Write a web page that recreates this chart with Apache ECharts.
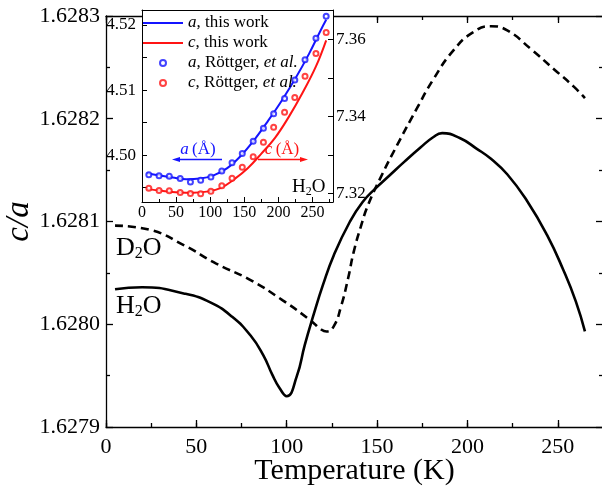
<!DOCTYPE html>
<html>
<head>
<meta charset="utf-8">
<script src="https://cdn.jsdelivr.net/npm/echarts@6/dist/echarts.min.js"></script>
<style>
html, body { margin: 0; padding: 0; background: #fff; }
#chart { width: 602px; height: 487px; }
</style>
</head>
<body>
<div id="chart"></div>
<script>
// main plot, c/a ratio
var tempH2O = [5, 20, 43, 58, 70, 80, 87, 92, 96, 100, 105.5, 110, 115, 120, 126, 135, 142, 149, 157, 165, 174, 181, 186, 196, 205, 213, 222, 233, 244, 253, 260, 265];
var caH2O = [1.628034, 1.628036, 1.628030, 1.628021, 1.628007, 1.627989, 1.627970, 1.627951, 1.627938, 1.627930, 1.627949, 1.627980, 1.628010, 1.628038, 1.628067, 1.628100, 1.628119, 1.628132, 1.628145, 1.628158, 1.628172, 1.628182, 1.628186, 1.628181, 1.628171, 1.628161, 1.628146, 1.628120, 1.628087, 1.628053, 1.628022, 1.627993];
var tempD2O = [5, 24, 43, 61, 80, 98, 113, 119, 122, 126, 130, 134, 137, 141, 145, 152, 161, 172, 181, 192, 203, 213, 222, 235, 248, 259, 265];
var caD2O = [1.628096, 1.628092, 1.628077, 1.628059, 1.628043, 1.628023, 1.628004, 1.627995, 1.627993, 1.627998, 1.628017, 1.628045, 1.628070, 1.628095, 1.628116, 1.628143, 1.628174, 1.628210, 1.628238, 1.628266, 1.628284, 1.628290, 1.628286, 1.628268, 1.628248, 1.628231, 1.628220];

// inset, lattice constants of H2O
var tempFitA = [7, 25, 45, 65, 85, 105, 125, 145, 165, 185, 205, 225, 245, 262, 270];
var aFit = [4.49720, 4.49690, 4.49655, 4.49630, 4.49640, 4.49690, 4.49800, 4.49990, 4.50240, 4.50530, 4.50840, 4.51180, 4.51560, 4.51920, 4.52080];
var tempFitC = [7, 30, 55, 75, 95, 115, 135, 155, 175, 195, 215, 235, 255, 270];
var cFit = [7.32112, 7.32060, 7.32020, 7.32010, 7.32040, 7.32130, 7.32360, 7.32650, 7.33030, 7.33440, 7.33980, 7.34600, 7.35300, 7.35980];
var tempRottger = [10, 25, 40, 56, 71, 86, 101, 117, 132, 147, 163, 178, 193, 209, 224, 239, 255, 270];
var aRottger = [4.49697, 4.49682, 4.49677, 4.49642, 4.49589, 4.49615, 4.49666, 4.49758, 4.49882, 4.50026, 4.50215, 4.50415, 4.50635, 4.50872, 4.51154, 4.51466, 4.51795, 4.52134];
var cRottger = [7.32130, 7.32068, 7.32060, 7.32016, 7.31990, 7.31982, 7.32052, 7.32190, 7.32390, 7.32675, 7.32950, 7.33325, 7.33714, 7.34104, 7.34494, 7.35047, 7.35636, 7.36182];

var legendNames = ['a, this work', 'c, this work', 'a, Röttger, et al.', 'c, Röttger, et al.'];

var serif = '"Liberation Serif", "DejaVu Serif", serif';
var blue = '#1414ff';
var red = '#ff1414';

function zip(xs, ys) {
    return xs.map(function (x, i) { return [x, ys[i]]; });
}

function tickAxis(extra) {
    var base = {
        type: 'value',
        splitLine: {show: false},
        axisLine: {show: true, onZero: false, lineStyle: {color: '#000', width: 1.3}},
        axisTick: {show: true, inside: true, length: 7, lineStyle: {color: '#000', width: 1.3}},
        axisLabel: {show: false}
    };
    return Object.assign(base, extra);
}

function formula(a, b, big, small, y) {
    // chemical formula with a lowered 2
    return {type: 'text', x: 0, y: 0, z: 9, style: {
        text: '{n|' + a + '}{s|2}{n|' + b + '}', textVerticalAlign: 'middle',
        rich: {n: {fontFamily: serif, fontSize: big, lineHeight: big + 2, fill: '#000'},
               s: {fontFamily: serif, fontSize: small, lineHeight: y, verticalAlign: 'bottom', fill: '#000'}}}};
}

var myChart = echarts.init(document.getElementById('chart'));

var d2oLabel = formula('D', 'O', 26, 16, 6);
d2oLabel.x = 116; d2oLabel.y = 248;
var h2oLabel = formula('H', 'O', 26, 16, 6);
h2oLabel.x = 116; h2oLabel.y = 306;
var insetLabel = formula('H', 'O', 19, 12, 4);
insetLabel.x = 292; insetLabel.y = 187;

var option = {
    animation: false,
    backgroundColor: '#fff',
    textStyle: {fontFamily: serif, color: '#000'},
    grid: [
        {left: 106, top: 16, right: -1, bottom: 60, outerBoundsMode: 'none', containLabel: false},
        {left: 142, top: 10, width: 191, height: 192, show: true, backgroundColor: '#fff', borderWidth: 0, z: 5,
            outerBoundsMode: 'none', containLabel: false}
    ],
    legend: {
        data: [
            {name: legendNames[0], itemStyle: {opacity: 0}},
            {name: legendNames[1], itemStyle: {opacity: 0}},
            {name: legendNames[2]},
            {name: legendNames[3]}
        ],
        left: 142,
        top: 13,
        orient: 'vertical',
        padding: 0,
        itemGap: 0,
        itemWidth: 40,
        itemHeight: 6,
        selectedMode: false,
        z: 8,
        formatter: function (name) {
            var parts = name.split(', ');
            if (parts.length == 3) {
                return '{i|' + parts[0] + '}{n|, ' + parts[1] + ', }{i|' + parts[2] + '}';
            }
            return '{i|' + parts[0] + '}{n|, ' + parts[1] + '}';
        },
        textStyle: {
            fontFamily: serif, fontSize: 17, color: '#000', lineHeight: 20,
            rich: {
                i: {fontFamily: serif, fontSize: 17, fontStyle: 'italic', color: '#000', lineHeight: 20},
                n: {fontFamily: serif, fontSize: 17, color: '#000', lineHeight: 20}
            }
        }
    },
    xAxis: [
        tickAxis({
            gridIndex: 0, position: 'bottom', min: 0, max: 275, interval: 50,
            axisLabel: {show: true, fontFamily: serif, fontSize: 22, color: '#000', margin: 9, showMaxLabel: false},
            name: 'Temperature (K)', nameLocation: 'middle', nameGap: 29, nameMoveOverlap: false,
            nameTextStyle: {fontFamily: serif, fontSize: 30, color: '#000'}
        }),
        tickAxis({gridIndex: 0, position: 'bottom', min: 0, max: 275, interval: 25,
            axisLine: {show: false}, axisTick: {inside: true, length: 4, lineStyle: {color: '#000', width: 1.3}}}),
        tickAxis({gridIndex: 0, position: 'top', min: 0, max: 275, interval: 50}),
        tickAxis({gridIndex: 0, position: 'top', min: 0, max: 275, interval: 25,
            axisLine: {show: false}, axisTick: {inside: true, length: 4, lineStyle: {color: '#000', width: 1.3}}}),
        tickAxis({
            gridIndex: 1, position: 'bottom', min: 0, max: 280, interval: 50, z: 6,
            axisLine: {show: true, onZero: false, lineStyle: {color: '#000', width: 1}},
            axisTick: {inside: true, length: 5, lineStyle: {color: '#000', width: 1}},
            minorTick: {show: true, splitNumber: 2, length: 3, lineStyle: {color: '#000', width: 1}},
            axisLabel: {show: true, fontFamily: serif, fontSize: 16, color: '#000', margin: 3, showMaxLabel: false}
        }),
        tickAxis({gridIndex: 1, position: 'top', min: 0, max: 280, z: 6,
            axisLine: {show: true, onZero: false, lineStyle: {color: '#000', width: 1}}, axisTick: {show: false}})
    ],
    yAxis: [
        tickAxis({
            gridIndex: 0, position: 'left', min: 1.6279, max: 1.6283, interval: 0.0001,
            minorTick: {show: true, splitNumber: 2, length: 4, lineStyle: {color: '#000', width: 1.3}},
            axisLabel: {show: true, fontFamily: serif, fontSize: 22, color: '#000', margin: 6,
                formatter: function (v) { return v.toFixed(4); }},
            name: 'c/a', nameLocation: 'middle', nameGap: 70, nameRotate: 90, nameMoveOverlap: false,
            nameTextStyle: {fontFamily: serif, fontSize: 33, fontStyle: 'italic', color: '#000'}
        }),
        tickAxis({
            gridIndex: 0, position: 'right', min: 1.6279, max: 1.6283, interval: 0.0001,
            minorTick: {show: true, splitNumber: 2, length: 4, lineStyle: {color: '#000', width: 1.3}}
        }),
        tickAxis({
            gridIndex: 1, position: 'left', min: 4.4928, max: 4.5223, splitNumber: 5, z: 6,
            axisLine: {show: true, onZero: false, lineStyle: {color: '#000', width: 1}},
            axisTick: {inside: true, length: 5, lineStyle: {color: '#000', width: 1}},
            axisLabel: {show: true, fontFamily: serif, fontSize: 17, color: '#000', margin: 6,
                formatter: function (v) {
                    return Math.abs(v * 100 - Math.round(v * 100)) < 1e-6 ? v.toFixed(2) : '';
                }}
        }),
        tickAxis({
            gridIndex: 1, position: 'right', min: 7.3177, max: 7.3677, splitNumber: 5, z: 6,
            axisLine: {show: true, onZero: false, lineStyle: {color: '#000', width: 1}},
            axisTick: {inside: true, length: 5, lineStyle: {color: '#000', width: 1}},
            axisLabel: {show: true, fontFamily: serif, fontSize: 17, color: '#000', margin: 3,
                formatter: function (v) {
                    return Math.abs(v * 50 - Math.round(v * 50)) < 1e-6 ? v.toFixed(2) : '';
                }}
        })
    ],
    series: [
        {
            name: 'H2O', type: 'line', xAxisIndex: 0, yAxisIndex: 0,
            data: zip(tempH2O, caH2O), smooth: 0.5, symbol: 'none',
            lineStyle: {color: '#000', width: 2.6}
        },
        {
            name: 'D2O', type: 'line', xAxisIndex: 0, yAxisIndex: 0,
            data: zip(tempD2O, caD2O), smooth: 0.5, symbol: 'none',
            lineStyle: {color: '#000', width: 2.6, type: [8, 5]}
        },
        {
            name: legendNames[0], type: 'line', xAxisIndex: 4, yAxisIndex: 2, z: 7,
            data: zip(tempFitA, aFit), smooth: 0.4, symbol: 'none',
            itemStyle: {color: blue}, lineStyle: {color: blue, width: 2}
        },
        {
            name: legendNames[1], type: 'line', xAxisIndex: 4, yAxisIndex: 3, z: 7,
            data: zip(tempFitC, cFit), smooth: 0.4, symbol: 'none',
            itemStyle: {color: red}, lineStyle: {color: red, width: 2}
        },
        {
            name: legendNames[2], type: 'scatter', xAxisIndex: 4, yAxisIndex: 2, z: 7,
            data: zip(tempRottger, aRottger), symbol: 'emptyCircle', symbolSize: 5,
            itemStyle: {color: blue, borderColor: blue, borderWidth: 1.2}
        },
        {
            name: legendNames[3], type: 'scatter', xAxisIndex: 4, yAxisIndex: 3, z: 7,
            data: zip(tempRottger, cRottger), symbol: 'emptyCircle', symbolSize: 5,
            itemStyle: {color: red, borderColor: red, borderWidth: 1.2}
        }
    ],
    graphic: [
        d2oLabel,
        h2oLabel,
        insetLabel,
        {type: 'text', x: 198, y: 150, z: 9, style: {
            text: '{i|a} {n|(Å)}', textAlign: 'center', textVerticalAlign: 'middle',
            rich: {i: {fontFamily: serif, fontSize: 17, fontStyle: 'italic', fill: blue},
                   n: {fontFamily: serif, fontSize: 17, fill: blue}}}},
        {type: 'text', x: 282, y: 150, z: 9, style: {
            text: '{i|c} {n|(Å)}', textAlign: 'center', textVerticalAlign: 'middle',
            rich: {i: {fontFamily: serif, fontSize: 17, fontStyle: 'italic', fill: red},
                   n: {fontFamily: serif, fontSize: 17, fill: red}}}},
        {type: 'line', z: 9, shape: {x1: 178, y1: 159.5, x2: 222, y2: 159.5}, style: {stroke: blue, lineWidth: 1.3}},
        {type: 'polygon', z: 9, shape: {points: [[172, 159.5], [180, 157], [180, 162]]}, style: {fill: blue}},
        {type: 'line', z: 9, shape: {x1: 258, y1: 159.5, x2: 302, y2: 159.5}, style: {stroke: red, lineWidth: 1.3}},
        {type: 'polygon', z: 9, shape: {points: [[308, 159.5], [300, 157], [300, 162]]}, style: {fill: red}}
    ]
};

myChart.setOption(option);
window.onresize = myChart.resize;
</script>
</body>
</html>
